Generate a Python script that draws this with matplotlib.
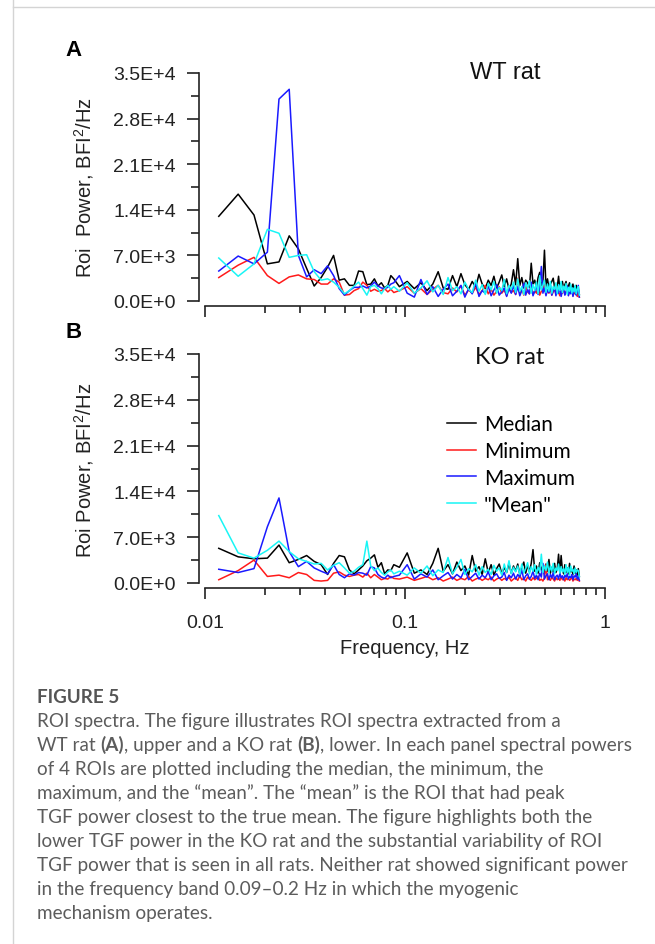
import matplotlib
matplotlib.use("Agg")
import matplotlib.pyplot as plt
from matplotlib.ticker import FixedLocator, FuncFormatter, NullFormatter
import numpy as np

W, H = 655, 945

# spectra are sampled at f = k * 3/1024 Hz; low bins every bin, tail every third bin
DF = 3.0 / 1024
bins_low = list(range(4, 31))
bins_tail = list(range(32, 257, 3))

# ROI power in units of 1E+3 BFI^2/Hz
# --- panel A, WT rat ---
wt_median_low = [13.0, 16.4, 13.2, 5.7, 6.0, 10.0, 8.0, 5.0, 2.3, 3.6, 5.2, 7.0, 3.2, 3.4,
                 2.4, 2.4, 4.6, 4.5, 2.5, 2.6, 3.4, 2.3, 2.8, 2.0, 2.4, 3.9, 3.4]
wt_median_tail = [2.2, 3.0, 1.9, 2.8, 1.6, 2.6, 4.5, 2.0, 1.8, 3.9,
                  2.2, 4.2, 2.5, 1.8, 3.0, 2.1, 4.1, 2.6, 1.9, 3.2,
                  2.4, 3.8, 2.0, 2.9, 4.0, 2.2, 3.4, 1.8, 2.6, 4.8,
                  2.5, 6.5, 2.4, 3.6, 2.0, 3.2, 2.8, 2.1, 5.8, 2.6,
                  3.2, 2.0, 3.6, 4.4, 2.4, 3.0, 7.8, 2.2, 3.4, 2.0,
                  2.6, 3.0, 3.5, 2.1, 2.4, 2.2, 3.8, 1.8, 2.6, 3.0,
                  1.9, 2.5, 3.0, 1.8, 2.3, 2.8, 1.6, 2.2, 2.6, 1.5,
                  2.1, 2.4, 1.4, 1.8, 1.0]
wt_min_low = [3.6, 5.5, 6.7, 3.9, 2.7, 3.7, 4.0, 3.4, 3.3, 2.6, 2.6, 3.4, 2.9, 0.9,
              1.0, 1.6, 1.9, 2.9, 2.4, 1.5, 1.8, 1.5, 1.6, 1.9, 1.4, 1.8, 1.3]
wt_min_tail = [1.6, 2.2, 1.2, 1.9, 1.0, 1.8, 2.4, 1.3, 1.1, 2.0,
               1.4, 2.3, 0.9, 1.7, 1.2, 2.1, 1.0, 1.6, 2.4, 1.1,
               1.8, 0.9, 1.5, 2.2, 1.2, 1.7, 0.8, 2.0, 1.3, 1.6,
               1.0, 3.5, 1.2, 1.9, 0.9, 2.6, 1.4, 1.1, 2.3, 1.0,
               1.6, 1.2, 2.2, 0.9, 1.5, 1.8, 2.9, 1.0, 1.7, 1.2,
               2.0, 0.9, 1.4, 1.8, 1.1, 2.2, 1.3, 0.8, 1.6, 1.2,
               1.9, 1.0, 1.4, 1.7, 0.9, 1.5, 1.2, 1.8, 0.8, 1.3,
               1.1, 1.6, 0.7, 1.2, 0.6]
wt_max_low = [4.6, 6.9, 5.7, 7.5, 31.0, 32.5, 7.0, 3.7, 4.8, 4.2, 5.4, 3.9, 1.9, 0.9,
              1.6, 2.1, 2.1, 2.3, 2.0, 2.3, 2.9, 2.3, 2.0, 1.9, 2.1, 2.6, 2.8]
wt_max_tail = [3.9, 1.2, 0.6, 3.3, 1.0, 2.2, 0.7, 1.8, 2.6, 0.8,
               1.5, 2.4, 0.6, 1.9, 1.1, 2.8, 0.7, 1.6, 1.2, 2.3,
               0.8, 1.7, 2.5, 0.9, 1.4, 2.0, 0.7, 1.9, 1.2, 2.4,
               1.0, 2.2, 0.8, 1.6, 2.7, 0.9, 1.8, 1.1, 2.9, 0.8,
               1.5, 2.3, 1.0, 1.9, 5.3, 1.2, 2.0, 0.8, 1.7, 1.3,
               2.5, 0.9, 1.6, 2.1, 0.8, 1.9, 1.2, 2.4, 0.7, 1.5,
               2.0, 0.9, 1.4, 2.3, 0.8, 1.7, 1.1, 2.0, 0.7, 1.6,
               2.2, 0.9, 1.4, 2.4, 0.6]
wt_mean_low = [6.6, 3.8, 5.7, 11.0, 10.4, 6.7, 7.0, 7.1, 4.5, 3.2, 3.4, 2.9, 2.1, 1.1,
               1.6, 2.3, 2.9, 1.9, 0.9, 2.2, 2.4, 1.9, 1.1, 1.9, 2.4, 1.8, 2.2]
wt_mean_tail = [1.5, 2.8, 1.2, 2.0, 3.1, 1.4, 2.4, 1.0, 3.6, 1.6,
                2.2, 1.1, 2.9, 1.8, 1.3, 3.2, 1.5, 2.5, 1.0, 2.7,
                1.7, 3.0, 1.2, 2.1, 1.6, 3.3, 1.1, 2.4, 1.8, 2.9,
                1.3, 3.4, 1.5, 2.2, 1.0, 2.8, 1.9, 3.1, 1.2, 2.5,
                1.6, 2.9, 1.1, 3.9, 1.7, 2.4, 3.2, 1.3, 2.6, 1.5,
                3.0, 1.2, 2.2, 1.8, 2.8, 1.1, 2.5, 1.6, 3.0, 1.3,
                2.3, 1.7, 2.7, 1.0, 2.1, 1.5, 2.6, 1.2, 2.0, 1.4,
                2.4, 1.1, 1.8, 2.2, 0.9]

# --- panel B, KO rat ---
ko_median_low = [5.3, 4.0, 3.7, 3.8, 5.8, 3.1, 3.6, 4.2, 3.3, 2.8, 1.3, 3.0, 4.2, 4.0,
                 2.0, 1.4, 2.0, 2.6, 3.4, 3.8, 4.3, 2.4, 3.1, 1.4, 2.0, 1.9, 2.8]
ko_median_tail = [2.4, 4.6, 1.5, 2.0, 1.3, 3.0, 5.3, 1.8, 2.8, 1.4,
                  3.2, 1.9, 2.6, 1.2, 4.2, 1.8, 2.5, 1.3, 3.7, 1.6,
                  2.8, 1.2, 2.2, 2.9, 1.4, 2.4, 1.6, 3.0, 1.5, 2.6,
                  1.8, 2.9, 1.3, 2.4, 3.2, 1.5, 2.7, 1.7, 3.0, 5.1,
                  1.8, 2.6, 1.5, 3.1, 2.0, 2.6, 1.4, 2.9, 1.8, 3.6,
                  1.5, 2.4, 1.7, 3.0, 1.6, 2.2, 4.4, 1.5, 4.2, 2.0,
                  1.4, 2.8, 1.6, 2.3, 1.4, 3.0, 1.7, 2.1, 1.3, 2.6,
                  1.5, 2.0, 1.2, 2.2, 1.0]
ko_min_low = [0.5, 1.9, 3.5, 1.0, 1.2, 0.8, 1.6, 1.3, 0.4, 0.3, 0.4, 1.5, 1.7, 1.2,
              1.0, 1.2, 1.3, 0.9, 1.5, 0.8, 1.3, 0.9, 0.5, 0.7, 0.6, 1.0, 0.7]
ko_min_tail = [0.6, 0.9, 0.4, 0.7, 1.0, 0.5, 0.8, 0.3, 0.6, 0.9,
               0.4, 0.7, 0.5, 1.0, 0.3, 0.6, 0.8, 0.4, 0.7, 0.5,
               0.9, 0.3, 0.6, 0.8, 0.4, 0.7, 0.5, 0.9, 0.3, 0.6,
               0.8, 0.4, 1.1, 0.5, 0.7, 0.3, 0.9, 0.6, 0.4, 0.8,
               0.5, 0.7, 1.0, 0.4, 0.6, 0.3, 0.8, 2.8, 0.5, 0.7,
               0.4, 0.9, 0.6, 0.3, 0.8, 0.5, 0.7, 0.4, 1.0, 0.5,
               0.6, 0.3, 0.8, 0.5, 0.7, 0.4, 0.6, 0.9, 0.3, 0.6,
               0.5, 0.7, 0.4, 0.6, 0.3]
ko_max_low = [2.1, 1.6, 2.2, 8.6, 13.0, 4.8, 2.5, 3.3, 2.3, 1.8, 1.4, 2.8, 1.3, 0.8,
              1.4, 1.2, 1.6, 1.5, 1.2, 2.5, 2.3, 1.3, 0.9, 0.7, 1.2, 0.8, 1.0]
ko_max_tail = [1.2, 2.8, 0.6, 1.4, 0.9, 2.0, 0.5, 1.1, 1.6, 0.6,
               1.3, 0.8, 2.1, 0.5, 1.0, 1.5, 0.6, 1.2, 0.8, 1.7,
               0.5, 1.1, 1.4, 0.7, 0.9, 1.6, 0.4, 1.2, 0.8, 1.5,
               0.6, 1.3, 0.9, 2.0, 0.5, 1.1, 1.4, 0.6, 1.0, 1.8,
               0.7, 1.2, 0.5, 1.5, 0.9, 3.0, 0.6, 1.1, 1.4, 0.5,
               1.3, 0.8, 1.6, 0.5, 1.0, 1.2, 0.6, 1.5, 0.8, 1.1,
               0.5, 1.2, 0.9, 1.4, 0.6, 1.0, 0.8, 1.3, 0.5, 1.1,
               0.9, 1.4, 0.6, 1.0, 0.4]
ko_mean_low = [10.3, 4.6, 3.8, 5.0, 6.4, 4.8, 3.7, 3.3, 2.9, 3.0, 2.0, 2.7, 3.1, 2.3,
               1.5, 1.8, 2.4, 2.8, 6.4, 2.6, 1.9, 2.3, 1.6, 1.2, 1.7, 2.0, 1.4]
ko_mean_tail = [1.8, 1.2, 2.3, 1.5, 2.6, 1.1, 2.0, 1.6, 3.9, 1.4,
                2.4, 3.6, 1.3, 2.2, 1.7, 2.8, 1.2, 2.5, 1.6, 2.1,
                1.3, 2.7, 1.8, 2.3, 1.2, 2.9, 1.6, 3.4, 1.4, 2.4,
                1.7, 2.6, 1.3, 2.9, 1.5, 2.2, 3.1, 1.4, 2.5, 1.8,
                2.8, 1.3, 2.4, 1.7, 4.4, 1.6, 2.7, 1.9, 3.2, 1.5,
                2.6, 1.8, 3.0, 1.4, 2.3, 1.9, 2.9, 1.5, 2.5, 1.7,
                2.2, 1.3, 2.8, 1.6, 2.4, 1.2, 2.6, 1.8, 2.1, 1.4,
                2.3, 1.6, 2.0, 1.9, 1.0]

series_names = ["Median", "Minimum", "Maximum", '"Mean"']
series_colors = ["#000000", "#ff1a1a", "#1a1aff", "#19f5f5"]

y_major = [0, 7000, 14000, 21000, 28000, 35000]
y_minor = [3500, 10500, 17500, 24500, 31500]
x_major = [0.01, 0.1, 1]
x_minor = [m * d for d in (0.01, 0.1) for m in range(2, 10)]

caption_lines = [
    [("ROI spectra. The figure illustrates ROI spectra extracted from a", "normal")],
    [("WT rat ", "normal"), ("(A)", "bold"), (", upper and a KO rat ", "normal"),
     ("(B)", "bold"), (", lower. In each panel spectral powers", "normal")],
    [("of 4 ROIs are plotted including the median, the minimum, the", "normal")],
    [("maximum, and the \u201cmean\u201d. The \u201cmean\u201d is the ROI that had peak", "normal")],
    [("TGF power closest to the true mean. The figure highlights both the", "normal")],
    [("lower TGF power in the KO rat and the substantial variability of ROI", "normal")],
    [("TGF power that is seen in all rats. Neither rat showed significant power", "normal")],
    [("in the frequency band 0.09\u20130.2 Hz in which the myogenic", "normal")],
    [("mechanism operates.", "normal")],
]

plt.rcParams['font.family'] = ['Liberation Sans', 'DejaVu Sans']
plt.rcParams['mathtext.fontset'] = 'custom'
plt.rcParams['mathtext.rm'] = 'Liberation Sans'
plt.rcParams['mathtext.it'] = 'Liberation Sans:italic'


def fx(x):
    return x / W


def fy(y):
    return 1 - y / H


def yfmt(v, pos):
    if v == 0:
        return "0.0E+0"
    e = int(np.floor(np.log10(v)))
    return "%.1fE+%d" % (v / 10 ** e, e)


fig = plt.figure(figsize=(W / 100, H / 100), dpi=100)

# axes boxes in pixels: left/right of x range, y of zero and of 3.5E+4
X0, X1 = 205, 605
panels = [(302, 74), (584, 355)]
freq = np.array(bins_low + bins_tail) * DF

data = [
    [wt_median_low + wt_median_tail, wt_min_low + wt_min_tail,
     wt_max_low + wt_max_tail, wt_mean_low + wt_mean_tail],
    [ko_median_low + ko_median_tail, ko_min_low + ko_min_tail,
     ko_max_low + ko_max_tail, ko_mean_low + ko_mean_tail],
]

axes = []
for i, (ybot, ytop) in enumerate(panels):
    ax = fig.add_axes([fx(X0), fy(ybot), (X1 - X0) / W, (ybot - ytop) / H])
    for vals, c, name in zip(data[i], series_colors, series_names):
        ax.plot(freq, np.array(vals) * 1000, color=c, lw=1.1, label=name)
    ax.set_xscale('log')
    ax.set_xlim(0.01, 1)
    ax.set_ylim(0, 35000)
    ax.patch.set_visible(False)
    for s in ('top', 'right'):
        ax.spines[s].set_visible(False)
    ax.spines['left'].set_position(('outward', 4.5))
    ax.spines['bottom'].set_position(('outward', 3.6))
    for s in ('left', 'bottom'):
        ax.spines[s].set_linewidth(1.2)
        ax.spines[s].set_color('#222222')
    ax.yaxis.set_major_locator(FixedLocator(y_major))
    ax.yaxis.set_minor_locator(FixedLocator(y_minor))
    ax.yaxis.set_major_formatter(FuncFormatter(yfmt))
    ax.xaxis.set_major_locator(FixedLocator(x_major))
    ax.xaxis.set_minor_locator(FixedLocator(x_minor))
    ax.xaxis.set_minor_formatter(NullFormatter())
    ax.xaxis.set_major_formatter(FuncFormatter(lambda v, p: "%g" % v))
    ax.tick_params(axis='y', which='major', length=8.5, width=1.2, pad=8,
                   labelsize=14, colors='#222222')
    ax.tick_params(axis='y', which='minor', length=6, width=1.2, colors='#222222')
    ax.tick_params(axis='x', which='major', length=8, width=1.2, pad=11,
                   labelsize=14, colors='#222222')
    ax.tick_params(axis='x', which='minor', length=5, width=1.2, colors='#222222')
    if i == 0:
        ax.tick_params(axis='x', labelbottom=False)
    axes.append(ax)

ax_a, ax_b = axes

# panel letters, titles and axis labels
fig.text(fx(74), fy(50), "A", fontsize=16, fontweight='bold', ha='center', va='center')
fig.text(fx(74), fy(333), "B", fontsize=16, fontweight='bold', ha='center', va='center')
fig.text(fx(505), fy(73), "WT rat", fontsize=17, ha='center', va='center', color='#111111')
fig.text(fx(510), fy(357), "KO rat", fontsize=17, family=['Lato', 'DejaVu Sans'],
         ha='center', va='center', color='#111111')
fig.text(fx(84), fy(188), "Roi  Power, BFI$^2$/Hz", fontsize=14.5, rotation=90,
         ha='center', va='center', color='#222222')
fig.text(fx(84), fy(470), "Roi Power, BFI$^2$/Hz", fontsize=14.5, rotation=90,
         ha='center', va='center', color='#222222')
fig.text(fx(405), fy(648), "Frequency, Hz", fontsize=14.5, ha='center', va='center',
         color='#222222')

ax_b.legend(loc='upper left', bbox_to_anchor=(fx(447), fy(415)),
            bbox_transform=fig.transFigure, frameon=False,
            prop={'family': ['Lato', 'DejaVu Sans'], 'size': 15},
            handlelength=1.4, handletextpad=0.38, labelspacing=0.33,
            borderpad=0, borderaxespad=0)

# page frame
fig.add_artist(plt.Line2D([fx(13), fx(13)], [fy(0), fy(945)], color='#d4d4d4', lw=1.0))
fig.add_artist(plt.Line2D([fx(13), fx(655)], [fy(8), fy(8)], color='#d4d4d4', lw=1.0))

# caption
renderer = fig.canvas.get_renderer()
CAP = '#5c5c5c'
fig.text(fx(37), fy(703), "FIGURE 5", fontsize=13.6, fontweight='bold',
         family=['Lato', 'DejaVu Sans'], color='#555555', va='baseline')
for j, parts in enumerate(caption_lines):
    x = 37
    yb = 727 + 24 * j
    for s, w in parts:
        t = fig.text(fx(x), fy(yb), s, fontsize=13.6, fontweight=w,
                     family=['Lato', 'DejaVu Sans'], color=CAP, va='baseline')
        x += t.get_window_extent(renderer).width

fig.savefig("out.png", dpi=100)
